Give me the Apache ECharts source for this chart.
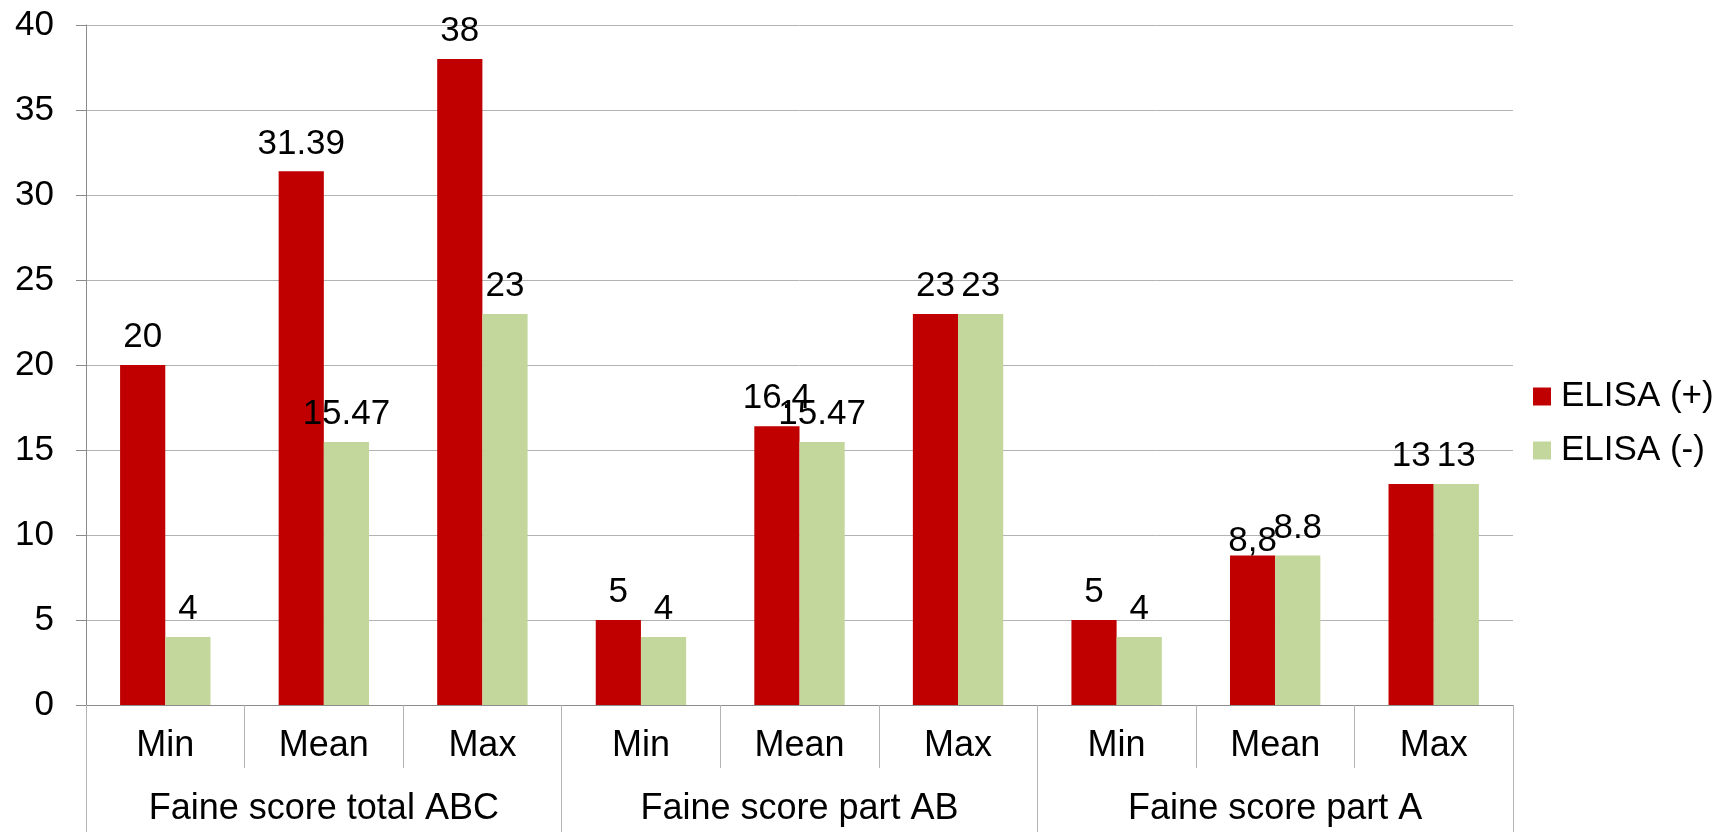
<!DOCTYPE html>
<html>
<head>
<meta charset="utf-8">
<script src="https://cdn.jsdelivr.net/npm/echarts@6/dist/echarts.min.js"></script>
<style>
  html, body { margin: 0; padding: 0; background: #ffffff; }
  #chart { width: 1729px; height: 832px; }
</style>
</head>
<body>
<div id="chart"></div>
<script>
// Faine score statistics by ELISA result
const statLabels = ['Min', 'Mean', 'Max', 'Min', 'Mean', 'Max', 'Min', 'Mean', 'Max'];
const scoreGroups = ['Faine score total ABC', 'Faine score part AB', 'Faine score part A'];
const elisaPositive = [20, 31.39, 38, 5, 16.4, 23, 5, 8.8, 13];
const elisaNegative = [4, 15.47, 23, 4, 15.47, 23, 4, 8.8, 13];
const seriesNames = ['ELISA (+)', 'ELISA (-)'];
const yTicks = { min: 0, max: 40, step: 5 };

const FONT = '"Liberation Sans", Arial, Helvetica, sans-serif';
const TXT = 35;
const CAT_TXT = 36;
const AXIS_GREY = '#8c8c8c';
const GRID_GREY = '#b3b3b3';

// the Excel-style decimal comma on the part A mean of the positive group
const positiveData = elisaPositive.map((v, i) => {
  if (i === 7) {
    return { value: v, label: { formatter: '8,8', offset: [0, 13] } };
  }
  return v;
});

const chart = echarts.init(document.getElementById('chart'), null, { renderer: 'canvas' });

const barLabel = {
  show: true,
  position: 'top',
  distance: 10,
  color: '#000',
  fontFamily: FONT,
  fontSize: TXT
};

chart.setOption({
  animation: false,
  backgroundColor: '#ffffff',
  textStyle: { fontFamily: FONT },
  grid: { left: 86, right: 216, top: 25, bottom: 127, containLabel: false },
  legend: {
    orient: 'vertical',
    left: 1528,
    top: 374,
    itemWidth: 18,
    itemHeight: 18,
    itemGap: 19,
    icon: 'rect',
    textStyle: { fontFamily: FONT, fontSize: TXT, color: '#000', padding: [0, 0, 0, 5] },
    data: seriesNames
  },
  xAxis: [
    {
      type: 'category',
      data: statLabels,
      position: 'bottom',
      axisLine: { show: true, lineStyle: { color: AXIS_GREY, width: 1 } },
      axisTick: { show: true, length: 63, lineStyle: { color: GRID_GREY, width: 1 } },
      axisLabel: { margin: 23, color: '#000', fontFamily: FONT, fontSize: CAT_TXT, interval: 0 },
      splitLine: { show: false }
    },
    {
      type: 'category',
      data: scoreGroups,
      position: 'bottom',
      axisLine: { show: false },
      axisTick: { show: true, length: 128, lineStyle: { color: GRID_GREY, width: 1 } },
      axisLabel: { margin: 86, color: '#000', fontFamily: FONT, fontSize: CAT_TXT, interval: 0 },
      splitLine: { show: false }
    }
  ],
  yAxis: {
    type: 'value',
    min: yTicks.min,
    max: yTicks.max,
    interval: yTicks.step,
    axisLine: { show: true, lineStyle: { color: AXIS_GREY, width: 1 } },
    axisTick: { show: true, length: 10, lineStyle: { color: AXIS_GREY, width: 1 } },
    axisLabel: { margin: 32, color: '#000', fontFamily: FONT, fontSize: TXT },
    splitLine: { show: true, lineStyle: { color: GRID_GREY, width: 1 } }
  },
  series: [
    {
      name: seriesNames[0],
      type: 'bar',
      xAxisIndex: 0,
      data: positiveData,
      barGap: '0%',
      barCategoryGap: '43%',
      itemStyle: { color: '#c00000' },
      label: barLabel
    },
    {
      name: seriesNames[1],
      type: 'bar',
      xAxisIndex: 0,
      data: elisaNegative,
      barGap: '0%',
      barCategoryGap: '43%',
      itemStyle: { color: '#c3d69b' },
      label: barLabel
    }
  ]
});
</script>
</body>
</html>
